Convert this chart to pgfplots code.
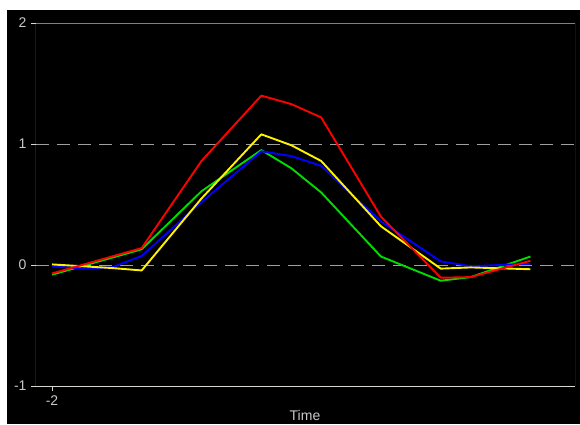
\documentclass[border=0pt]{standalone}
\usepackage{pgfplots}
\pgfplotsset{compat=1.18}
\usepackage{fontspec}
\setmainfont{Liberation Sans}
\definecolor{lbl}{RGB}{200,200,200}
\definecolor{axl}{RGB}{215,215,205}
\definecolor{axr}{RGB}{128,128,128}
\definecolor{grd}{RGB}{160,160,160}
\definecolor{grn}{RGB}{0,220,0}
\begin{document}
\begin{tikzpicture}[x=1pt,y=1pt]
\fill[white] (0,0) rectangle (580,424);
\fill[black] (7,0) rectangle (580,414);
\begin{axis}[
  at={(36pt,38pt)}, anchor=south west,
  scale only axis, width=539pt, height=363pt,
  xmin=-2.535, xmax=15.49, ymin=-1, ymax=2,
  axis line style={draw=none},
  xtick={-2}, xticklabels={-2},
  ytick={-1,0,1,2}, yticklabels={-1,0,1,2},
  tick align=outside, major tick length=5pt,
  tick style={axl, line width=0.8pt},
  xtick pos=bottom, ytick pos=left,
  ticklabel style={font=\fontsize{14}{16}\selectfont, text=lbl},
  yticklabel style={xshift=-1pt},
  xticklabel style={yshift=-1pt},
  ymajorgrids, grid style={grd, line width=1pt, dash pattern=on 13pt off 8pt},
  clip=true,
  every axis plot/.append style={line width=1.9pt, line join=round, mark=none},
]
\addplot[grn] coordinates {(-2,-0.08) (1,0.13) (3,0.61) (5,0.95) (6,0.80) (7,0.60) (9,0.07) (11,-0.13) (12,-0.10) (14,0.07)};
\addplot[blue] coordinates {(-2,-0.01) (-1,-0.03) (0,-0.02) (1,0.075) (3,0.52) (5,0.94) (6,0.90) (7,0.82) (9,0.36) (11,0.03) (12,-0.01) (14,0.01)};
\addplot[yellow] coordinates {(-2,0.005) (0,-0.025) (1,-0.045) (3,0.55) (5,1.08) (6,0.99) (7,0.86) (9,0.32) (11,-0.03) (12,-0.02) (14,-0.035)};
\addplot[red] coordinates {(-2,-0.07) (1,0.14) (3,0.86) (5,1.40) (6,1.33) (7,1.22) (9,0.40) (11,-0.105) (12,-0.10) (14,0.035)};
\draw[axr, line width=1pt] (rel axis cs:0,1) -- (rel axis cs:1,1) -- (rel axis cs:1,0);
\draw[axl, line width=1pt] (rel axis cs:1,0) -- (rel axis cs:0,0) -- (rel axis cs:0,1);
\end{axis}
\node[anchor=north, text=lbl, font=\fontsize{14}{16}\selectfont, inner sep=0pt] at (305,14) {Time};
\pgfresetboundingbox
\path[use as bounding box] (0,0) rectangle (580,424);
\end{tikzpicture}
\end{document}
